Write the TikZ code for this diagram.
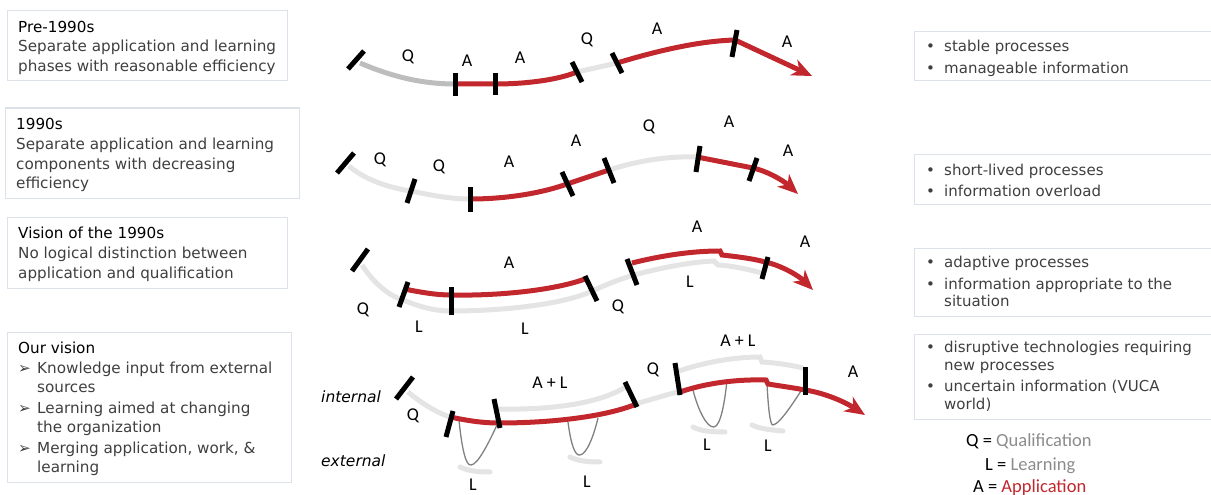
\documentclass[tikz,border=0pt]{standalone}
\usepackage{fontspec}
\setmainfont{DejaVu Sans}
\newfontfamily\calib{Carlito}
\usetikzlibrary{arrows.meta}
\definecolor{appred}{HTML}{C1272D}
\definecolor{qlight}{HTML}{E4E4E4}
\definecolor{qdark}{HTML}{BDBDBD}
\definecolor{loopgray}{HTML}{808080}
\definecolor{boxline}{HTML}{DCE1EA}
\definecolor{bodytext}{HTML}{3F3F3F}
\definecolor{legendgray}{HTML}{8C8C8C}

\begin{document}
\begin{tikzpicture}[x=1pt,y=-1pt,
  panel/.style={draw=boxline, line width=1pt},
  ttl/.style={anchor=base west, inner sep=0pt, font=\fontsize{15.2}{19.7}\selectfont, text=black},
  body/.style={anchor=base west, inner sep=0pt, font=\fontsize{15.2}{19.7}\selectfont, text=bodytext},
  rbody/.style={anchor=base west, inner sep=0pt, font=\fontsize{15}{17.4}\selectfont, text=bodytext},
  lbl/.style={inner sep=0pt, font=\calib\fontsize{18}{20}\selectfont, text=black},
  side/.style={anchor=base west, inner sep=0pt, font=\fontsize{15.5}{18}\selectfont\itshape, text=black},
  legend/.style={anchor=base west, inner sep=0pt, font=\calib\fontsize{18.5}{20}\selectfont, text=black},
  appl/.style={draw=appred, line width=5pt},
  qual/.style={draw=qlight, line width=5pt},
  qualdark/.style={draw=qdark, line width=5pt},
  tickmark/.style={draw=black, line width=5pt},
  loop/.style={draw=loopgray, line width=1.3pt},
  lbar/.style={draw=qlight, line width=5pt, line cap=round},
  flow/.style={appl, -{Stealth[length=20pt,width=17pt,inset=6pt]}}
]
\useasboundingbox (0,0) rectangle (1211,495);

% ---------- left description panels ----------
\draw[panel] (7,10.5) rectangle (287,81);
\node[ttl] (t1) at (18,32.3) {Pre-1990s};
\foreach \y/\txt [count=\i] in {51.7/{Separate application and learning},
                                71.4/{phases with reasonable efficiency}}
  \node[body] (pa\i) at (18,\y) {\txt};

\draw[panel] (5,108) rectangle (299,198);
\node[ttl] (t2) at (16,129.3) {1990s};
\foreach \y/\txt [count=\i] in {149.3/{Separate application and learning},
                                169/{components with decreasing},
                                188.7/{efficiency}}
  \node[body] (pb\i) at (16,\y) {\txt};

\draw[panel] (7,217.3) rectangle (287,288);
\node[ttl] (t3) at (18,238.3) {Vision of the 1990s};
\foreach \y/\txt [count=\i] in {258.3/{No logical distinction between},
                                278/{application and qualification}}
  \node[body] (pc\i) at (18,\y) {\txt};

\draw[panel] (7,332) rectangle (291,482);
\node[ttl] (t4) at (18,353.3) {Our vision};
\foreach \y in {373.3,413,453}
  \node[body] at (18,\y) {➢};
\foreach \y/\txt [count=\i] in {373.3/{Knowledge input from external},
                                392.9/{sources},
                                413/{Learning aimed at changing},
                                432.6/{the organization},
                                453/{Merging application, work, \&},
                                472.6/{learning}}
  \node[body] (pd\i) at (37,\y) {\txt};

% ---------- right context panels ----------
\draw[panel] (1220,31.7) -- (914,31.7) -- (914,81) -- (1220,81);
\draw[panel] (1220,154.3) -- (914,154.3) -- (914,204.3) -- (1220,204.3);
\draw[panel] (1220,248.3) -- (914,248.3) -- (914,316) -- (1220,316);
\draw[panel] (1220,334.3) -- (914,334.3) -- (914,419.3) -- (1220,419.3);
\foreach \y in {51.7,73.3,175,196,267.3,289.3,352.7,391.7}
  \node[rbody] at (926,\y) {•};
\foreach \y/\txt [count=\i] in {51.7/{stable processes},
                                73.3/{manageable information},
                                175/{short-lived processes},
                                196/{information overload},
                                267.3/{adaptive processes},
                                289.3/{information appropriate to the},
                                306.7/{situation},
                                352.7/{disruptive technologies requiring},
                                370.1/{new processes},
                                391.7/{uncertain information (VUCA},
                                409.1/{world)}}
  \node[rbody] (ri\i) at (944,\y) {\txt};

% ---------- legend ----------
\node[legend] (lq) at (966,446) {Q = {\color{legendgray}Qualification}};
\node[legend] (ll) at (985,470) {L = {\color{legendgray}Learning}};
\node[legend] (la) at (973,492.3) {A = {\color{appred}Application}};

% ---------- row 1: pre-1990s ----------
\draw[qualdark] (360,63) .. controls (395,78) and (425,84) .. (455,84);
\draw[appl] (455,84) -- (495,84) .. controls (530,84) and (560,79) .. (577,72);
\draw[qual] (577,72) -- (617,63);
\draw[appl] (617,63) .. controls (660,50) and (700,41) .. (735,40);
\draw[flow] (735,40) -- (812,76);
\draw[tickmark] (348,69) -- (364,51);
\draw[tickmark] (455,73) -- (455,96);
\draw[tickmark] (495,73) -- (495,95);
\draw[tickmark] (572,62) -- (582,82);
\draw[tickmark] (612,53) -- (622,73);
\draw[tickmark] (737,30) -- (732,57);
\node[lbl] at (408,57) {Q};
\node[lbl] at (467,61) {A};
\node[lbl] at (520,58) {A};
\node[lbl] at (587,40) {Q};
\node[lbl] at (657,29) {A};
\node[lbl] at (787,42) {A};

% ---------- row 2: 1990s ----------
\draw[qual] (349,166) .. controls (365,180) and (390,188) .. (411,191)
             .. controls (430,195) and (450,199) .. (470,199);
\draw[appl] (470,199) .. controls (510,199) and (545,192) .. (567,184) -- (609,170);
\draw[qual] (609,170) .. controls (640,160) and (670,156) .. (697,157);
\draw[appl] (697,157) -- (753,168);
\draw[flow] (753,168) .. controls (770,172) and (785,182) .. (798,194);
\draw[tickmark] (337,173) -- (354,153);
\draw[tickmark] (407,203) -- (415,179);
\draw[tickmark] (470,187) -- (470,212);
\draw[tickmark] (562,172) -- (573,196);
\draw[tickmark] (604,158) -- (614,183);
\draw[tickmark] (700,146) -- (696,172);
\draw[tickmark] (757,158) -- (749,181);
\node[lbl] at (380,160) {Q};
\node[lbl] at (439,167) {Q};
\node[lbl] at (509,162) {A};
\node[lbl] at (576,141) {A};
\node[lbl] at (649,127) {Q};
\node[lbl] at (729,122) {A};
\node[lbl] at (788,151) {A};

% ---------- row 3: vision of the 1990s ----------
\draw[qual] (362,265) .. controls (375,285) and (390,296) .. (403,300)
             .. controls (420,307) and (435,311) .. (451,311)
             .. controls (500,311) and (560,305) .. (590,292)
             .. controls (605,285) and (620,279) .. (634,275)
             .. controls (660,268) and (690,262) .. (714,261) -- (718,265)
             .. controls (735,266) and (750,270) .. (762,273);
\draw[appl] (404,289) .. controls (420,292) and (435,295) .. (451,295)
             .. controls (500,296) and (555,290) .. (585,279);
\draw[appl] (632,263) .. controls (660,256) and (690,251) .. (720,251) -- (722,255)
             .. controls (740,257) and (755,259) .. (765,262);
\draw[flow] (765,262) .. controls (780,265) and (798,275) .. (813,290);
\draw[tickmark] (352,271) -- (368,249);
\draw[tickmark] (399,307) -- (408,282);
\draw[tickmark] (451,287) -- (451,315);
\draw[tickmark] (585,276) -- (597,301);
\draw[tickmark] (627,259) -- (637,285);
\draw[tickmark] (768,257) -- (762,279);
\node[lbl] at (509,263) {A};
\node[lbl] at (363,310) {Q};
\node[lbl] at (419,327) {L};
\node[lbl] at (525,329) {L};
\node[lbl] at (618,307) {Q};
\node[lbl] at (697,227) {A};
\node[lbl] at (690,282) {L};
\node[lbl] at (805,242) {A};

% ---------- row 4: our vision ----------
\node[side] (int) at (321,402.3) {internal};
\node[side] (ext) at (321,466) {external};
\draw[qual] (408,392) .. controls (420,402) and (435,412) .. (450,417);
\draw[qual] (498,409) .. controls (550,410) and (600,404) .. (627,386);
\draw[qual] (635,404) .. controls (650,400) and (665,395) .. (678,392);
\draw[qual] (679,371) .. controls (705,362) and (735,357) .. (760,357) -- (762,362)
             .. controls (780,363) and (795,366) .. (803,368);
% external learning loops
\draw[loop] (459,420) .. controls (462,450) and (466,466) .. (471,465)
             .. controls (478,465) and (490,440) .. (497,425);
\draw[loop] (568,422) .. controls (571,445) and (575,456) .. (580,455)
             .. controls (587,454) and (594,435) .. (598,418);
\draw[loop] (693,390) .. controls (698,410) and (707,428) .. (714,427)
             .. controls (721,426) and (725,400) .. (727,380);
\draw[loop] (767,383) .. controls (768,405) and (770,426) .. (773,425)
             .. controls (780,424) and (795,400) .. (801,391);
\draw[lbar] (460,467) .. controls (468,471) and (478,472) .. (490,472);
\draw[lbar] (570,457) .. controls (578,461) and (588,462) .. (600,462);
\draw[lbar] (693,427) .. controls (700,431) and (712,432) .. (725,432);
\draw[lbar] (752,425) .. controls (760,429) and (772,430) .. (783,431);
\draw[appl] (450,417) .. controls (465,420) and (480,423) .. (499,423)
             .. controls (545,423) and (600,418) .. (634,405);
\draw[appl] (680,392) .. controls (700,385) and (730,379) .. (766,380) -- (768,384)
             .. controls (780,386) and (795,388) .. (805,390);
\draw[flow] (805,390) .. controls (825,393) and (845,402) .. (865,415);
\draw[tickmark] (396,399) -- (413,377);
\draw[tickmark] (446,437) -- (453,411);
\draw[tickmark] (494,399) -- (500,428);
\draw[tickmark] (625,382) -- (637,407);
\draw[tickmark] (675,363) -- (680,395);
\draw[tickmark] (805,367) -- (805,395);
\node[lbl] at (413,416) {Q};
\node[lbl] at (550,383) {A + L};
\node[lbl] at (653,370) {Q};
\node[lbl] at (738,341) {A + L};
\node[lbl] at (853,372) {A};
\node[lbl] at (473,485) {L};
\node[lbl] at (587,482) {L};
\node[lbl] at (707,445) {L};
\node[lbl] at (768,446) {L};
\end{tikzpicture}
\end{document}
